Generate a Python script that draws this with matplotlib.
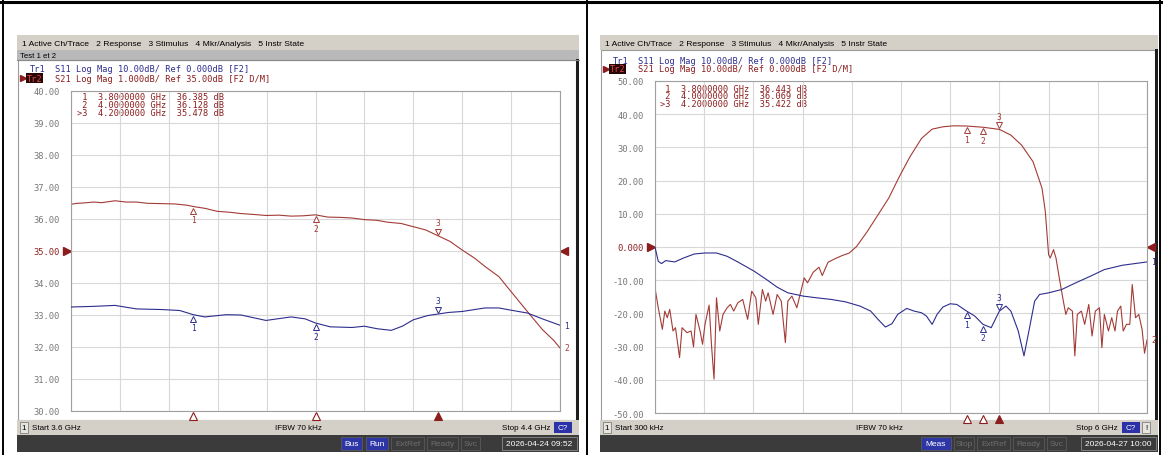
import numpy as np
import matplotlib
matplotlib.use('Agg')
import matplotlib.pyplot as plt
from matplotlib.patches import Rectangle
from matplotlib.transforms import offset_copy, blended_transform_factory

# ---- left screen: 3.6 - 4.4 GHz zoom ----
left_f_s21 = [3.600, 3.610, 3.620, 3.637, 3.650, 3.672, 3.690, 3.707, 3.725, 3.749,
              3.770, 3.790, 3.800, 3.820, 3.839, 3.860, 3.878, 3.900, 3.919, 3.940,
              3.960, 3.980, 4.000, 4.020, 4.042, 4.060, 4.080, 4.100, 4.118, 4.140,
              4.160, 4.180, 4.200, 4.220, 4.240, 4.260, 4.277, 4.300, 4.320, 4.347,
              4.371, 4.390, 4.400]
left_s21 = [36.46, 36.49, 36.50, 36.53, 36.51, 36.57, 36.53, 36.53, 36.49, 36.48,
            36.47, 36.43, 36.39, 36.33, 36.24, 36.21, 36.17, 36.14, 36.11, 36.12,
            36.09, 36.10, 36.13, 36.06, 36.05, 36.03, 35.98, 35.96, 35.90, 35.86,
            35.76, 35.66, 35.48, 35.30, 35.03, 34.78, 34.52, 34.20, 33.73, 33.10,
            32.55, 32.20, 31.97]
left_f_s11 = [3.600, 3.637, 3.672, 3.707, 3.749, 3.778, 3.800, 3.819, 3.854, 3.878,
              3.919, 3.960, 3.983, 4.000, 4.024, 4.060, 4.080, 4.101, 4.124, 4.142,
              4.160, 4.183, 4.200, 4.218, 4.240, 4.277, 4.300, 4.320, 4.347, 4.371,
              4.400]
left_s11 = [-17.5, -17.3, -17.0, -18.1, -18.3, -18.6, -19.9, -20.6, -19.9, -20.0,
            -21.7, -20.6, -21.2, -22.5, -23.7, -23.9, -23.5, -24.3, -24.8, -23.5,
            -21.5, -20.2, -19.7, -19.2, -18.9, -17.8, -17.8, -18.5, -19.4, -21.2,
            -23.2]
left_mk_f = [3.8, 4.0, 4.2]
left_mk_s21 = [36.385, 36.128, 35.478]
left_mk_s11 = [-19.9, -22.5, -19.7]
left_yticks = [40, 39, 38, 37, 36, 35, 34, 33, 32, 31, 30]

# ---- right screen: 300 kHz - 6 GHz wide sweep ----
right_f_s11 = [0.00, 0.04, 0.08, 0.13, 0.24, 0.35, 0.48, 0.61, 0.75, 0.88,
               1.01, 1.21, 1.36, 1.49, 1.62, 1.81, 1.97, 2.15, 2.32, 2.50,
               2.63, 2.72, 2.81, 2.89, 2.96, 3.07, 3.16, 3.25, 3.31, 3.38,
               3.44, 3.51, 3.60, 3.68, 3.80, 3.90, 4.00, 4.10, 4.20, 4.28,
               4.34, 4.43, 4.50, 4.56, 4.63, 4.69, 4.80, 4.96, 5.13, 5.31,
               5.48, 5.70, 6.00]
right_s11 = [0.0, -4.3, -5.0, -4.1, -4.5, -3.3, -2.1, -1.8, -1.8, -2.8,
             -4.5, -7.3, -9.8, -12.1, -13.8, -14.8, -15.3, -15.8, -16.5, -17.8,
             -19.3, -21.8, -24.1, -23.1, -20.3, -18.5, -19.3, -19.8, -20.8, -23.3,
             -20.3, -18.1, -17.1, -17.3, -19.3, -20.8, -23.3, -24.3, -19.3, -17.8,
             -19.3, -25.3, -32.8, -25.3, -16.3, -14.3, -13.8, -12.8, -10.8, -8.8,
             -6.8, -5.5, -4.5]
right_f_s21 = [0.00, 0.04, 0.09, 0.12, 0.15, 0.18, 0.22, 0.25, 0.30, 0.33,
               0.39, 0.44, 0.47, 0.50, 0.55, 0.58, 0.61, 0.66, 0.69, 0.72,
               0.75, 0.79, 0.83, 0.88, 0.92, 0.96, 1.01, 1.07, 1.13, 1.18,
               1.23, 1.26, 1.31, 1.35, 1.38, 1.44, 1.49, 1.54, 1.59, 1.62,
               1.67, 1.73, 1.78, 1.82, 1.86, 1.93, 2.00, 2.04, 2.11, 2.19,
               2.28, 2.37, 2.46, 2.59, 2.72, 2.85, 2.98, 3.11, 3.25, 3.38,
               3.51, 3.64, 3.80, 4.00, 4.20, 4.34, 4.47, 4.61, 4.72, 4.76,
               4.80, 4.82, 4.86, 4.89, 4.93, 4.98, 5.01, 5.04, 5.09, 5.12,
               5.15, 5.20, 5.24, 5.29, 5.33, 5.37, 5.42, 5.45, 5.48, 5.53,
               5.57, 5.61, 5.64, 5.68, 5.71, 5.75, 5.79, 5.82, 5.86, 5.90,
               5.94, 5.97, 6.00]
right_s21 = [-12.3, -18.3, -24.8, -19.3, -21.3, -18.8, -25.3, -24.3, -33.3, -24.3,
             -25.8, -25.3, -30.1, -20.3, -25.3, -29.3, -23.3, -17.5, -29.8, -39.8,
             -15.3, -25.3, -20.3, -18.3, -17.3, -19.3, -16.8, -15.8, -21.8, -13.3,
             -15.3, -23.3, -12.8, -16.3, -13.8, -20.3, -14.3, -16.3, -28.8, -16.3,
             -14.8, -18.3, -13.3, -9.3, -10.8, -7.6, -6.1, -8.6, -4.6, -3.6,
             -2.6, -1.8, 0.2, 4.7, 9.7, 14.7, 21.2, 27.2, 32.7, 35.5,
             36.2, 36.5, 36.44, 36.07, 35.42, 33.7, 30.7, 25.7, 17.7, 10.7,
             -2.3, -3.3, -0.8, -3.3, -9.3, -16.3, -20.3, -18.3, -19.3, -32.8,
             -20.3, -19.3, -23.3, -17.3, -26.8, -19.3, -18.3, -30.3, -20.3, -25.3,
             -21.3, -25.3, -19.3, -17.8, -25.3, -23.3, -23.3, -11.3, -21.3, -20.3,
             -24.8, -32.0, -28.0]
right_mk_f = [3.8, 4.0, 4.2]
right_mk_s21 = [36.443, 36.069, 35.422]
right_mk_s11 = [-19.3, -23.3, -19.3]
right_yticks = [50, 40, 30, 20, 10, 0, -10, -20, -30, -40, -50]

W, H = 1163, 456
RED = '#a33b36'
BLUE = '#2d2d8e'
MRED = '#8c1d1d'
MONO = 'DejaVu Sans Mono'
SANS = 'Liberation Sans'

fig = plt.figure(figsize=(W / 100, H / 100), dpi=100)
bg = fig.add_axes([0, 0, 1, 1])
bg.set_xlim(0, W)
bg.set_ylim(H, 0)
bg.axis('off')


def box(x0, y0, x1, y1, fc, ec='none', lw=0, z=1):
    bg.add_patch(Rectangle((x0, y0), x1 - x0, y1 - y0, facecolor=fc,
                           edgecolor=ec, linewidth=lw, zorder=z))


def txt(x, y, s, size=6.2, color='black', ha='left', family=MONO, **kw):
    bg.text(x, y, s, fontsize=size, color=color, ha=ha, va='center',
            family=family, zorder=5, **kw)


# outer table lines
bg.plot([0, W], [2.5, 2.5], color='black', lw=2.2)
for xx in (3, 587, 1160):
    bg.plot([xx, xx], [0, H], color='black', lw=1.4)


def panel(x0, x1, title, trace_y, s11_head, s21_head, start, stop, buttons, stamp, bang):
    box(x0, 36, x1, 51, '#d4d0c8')
    txt(x0 + 5, 44, '1 Active Ch/Trace   2 Response   3 Stimulus   4 Mkr/Analysis   5 Instr State',
        size=6.1, family=SANS)
    top = 51
    if title:
        box(x0, 51, x1, 61, '#b9b9b9')
        bg.plot([x0, x1], [61, 61], color='#8a8a8a', lw=0.8)
        txt(x0 + 3, 56, title, size=5.6, family=SANS)
        top = 61
    box(x0 + 1, top, x1 - 3, 421, 'white', ec='#9a9a9a', lw=0.8)
    box(x1 - 3, top - 1, x1, 436, '#1e1e1e')
    # trace headers
    txt(x0 + 13, trace_y, 'Tr1', color=BLUE)
    txt(x0 + 38, trace_y, s11_head, color=BLUE)
    bg.plot(x0 + 6, trace_y + 9, marker='>', ms=4, color=MRED, zorder=6)
    bg.text(x0 + 10, trace_y + 9, 'Tr2', fontsize=6.2, family=MONO, color='#e04848',
            va='center', zorder=6,
            bbox=dict(boxstyle='square,pad=0.08', fc='#2a0606', ec='none'))
    txt(x0 + 38, trace_y + 9, s21_head, color=MRED)
    # status bar
    box(x0, 421, x1, 436, '#d4d0c8')
    box(x0 + 3, 423, x0 + 11, 434, '#e6e4de', ec='#808080', lw=0.6)
    txt(x0 + 7, 428.5, '1', size=5.8, family=SANS, ha='center')
    txt(x0 + 15, 428.5, start, size=5.8, family=SANS)
    txt((x0 + x1) / 2, 428.5, 'IFBW 70 kHz', size=5.8, family=SANS, ha='center')
    cx = x1 - 27 if bang else x1 - 16
    box(cx - 9, 423, cx + 9, 434, '#2b32a8')
    txt(cx, 428.5, 'C?', size=5.8, family=SANS, ha='center', color='white')
    txt(cx - 13, 428.5, stop, size=5.8, family=SANS, ha='right')
    if bang:
        box(cx + 11, 423, cx + 19, 434, '#e6e4de', ec='#808080', lw=0.6)
        txt(cx + 15, 428.5, '!', size=5.8, family=SANS, ha='center')
    # dark bar
    box(x0, 436, x1, 453, '#3b3b3b')
    box(x1 - 77, 438, x1 - 2, 451, '#3b3b3b', ec='#8a8a8a', lw=0.6)
    txt(x1 - 39.5, 444.5, stamp, size=6.0, family=SANS, ha='center', color='white')
    for bx, bw, lab, on in buttons:
        box(bx, 438, bx + bw, 451, '#2e36a6' if on else '#3b3b3b',
            ec='#5a5a5a', lw=0.6)
        txt(bx + bw / 2, 444.5, lab, size=6.0, family=SANS, ha='center',
            color='white' if on else '#6e6e6e')


panel(17, 579, 'Test 1 et 2', 70,
      'S11 Log Mag 10.00dB/ Ref 0.000dB [F2]',
      'S21 Log Mag 1.000dB/ Ref 35.00dB [F2 D/M]',
      'Start 3.6 GHz', 'Stop 4.4 GHz',
      [(341, 21, 'Bus', True), (366, 22, 'Run', True), (391, 33, 'ExtRef', False),
       (427, 31, 'Ready', False), (461, 19, 'Svc', False)],
      '2026-04-24 09:52', False)
panel(600, 1158, None, 61,
      'S11 Log Mag 10.00dB/ Ref 0.000dB [F2]',
      'S21 Log Mag 10.00dB/ Ref 0.000dB [F2 D/M]',
      'Start 300 kHz', 'Stop 6 GHz',
      [(921, 30, 'Meas', True), (954, 20, 'Stop', False), (977, 33, 'ExtRef', False),
       (1013, 31, 'Ready', False), (1047, 19, 'Svc', False)],
      '2026-04-27 10:00', True)


def chart(box_px, xlim, ylim, yticks, ref, f21, v21, f11, v11, mk_f, mk21, mk11, table_xy):
    x0, y0, x1, y1 = box_px
    ax = fig.add_axes([x0 / W, 1 - y1 / H, (x1 - x0) / W, (y1 - y0) / H])
    ax.set_xlim(xlim)
    ax.set_ylim(ylim)
    ax.set_xticks(np.linspace(xlim[0], xlim[1], 11))
    ax.set_xticklabels([])
    ax.set_yticks(yticks)
    labs = ['0.000' if t == 0 else '%.2f' % t for t in yticks]
    ax.set_yticklabels(labs, family=MONO, fontsize=6.3, color='#767676')
    for lab, t in zip(ax.get_yticklabels(), yticks):
        if t == ref:
            lab.set_color(MRED)
    ax.tick_params(length=0, pad=8)
    ax.grid(color='#d8d8d8', lw=0.8)
    for s in ax.spines.values():
        s.set_color('#a0a0a0')
        s.set_linewidth(0.8)
    ax.patch.set_alpha(0)

    ax2 = ax.twinx()
    ax2.set_ylim(-50, 50)
    ax2.axis('off')

    ax.plot(f21, v21, color=RED, lw=0.8)
    ax2.plot(f11, v11, color=BLUE, lw=0.8)

    # marker symbols on the traces
    for a, vals, col in ((ax, mk21, RED), (ax2, mk11, BLUE)):
        for i, (f, v) in enumerate(zip(mk_f, vals)):
            if i < 2:
                tr = offset_copy(a.transData, fig=fig, y=-3.0, units='points')
                a.plot(f, v, marker='^', ms=5, mfc='white', mec=col, mew=0.7,
                       transform=tr, clip_on=False)
                a.annotate(str(i + 1), (f, v), xytext=(0, -9.5), textcoords='offset points',
                           ha='center', va='center', fontsize=5.8, family=MONO, color=col)
            else:
                tr = offset_copy(a.transData, fig=fig, y=3.0, units='points')
                a.plot(f, v, marker='v', ms=5, mfc='white', mec=col, mew=0.7,
                       transform=tr, clip_on=False)
                a.annotate(str(i + 1), (f, v), xytext=(0, 9.5), textcoords='offset points',
                           ha='center', va='center', fontsize=5.8, family=MONO, color=col)

    # stimulus markers under the grid
    bt = blended_transform_factory(ax.transData, ax.transAxes)
    for i, f in enumerate(mk_f):
        ax.plot(f, -0.017, marker='^', ms=6, mec=MRED, mew=0.8,
                mfc=MRED if i == 2 else 'white', transform=bt, clip_on=False)

    # reference position arrows
    rf = (ref - ylim[0]) / (ylim[1] - ylim[0])
    ax.plot(-0.009, rf, marker='>', ms=5.5, color=MRED, transform=ax.transAxes, clip_on=False)
    ax.plot(1.009, rf, marker='<', ms=5.5, color=MRED, transform=ax.transAxes, clip_on=False)

    # trace end numbers
    ax2.annotate('1', (f11[-1], v11[-1]), xytext=(3, 0), textcoords='offset points',
                 ha='left', va='center', fontsize=5.8, family=MONO, color=BLUE,
                 annotation_clip=False)
    ax.annotate('2', (f21[-1], v21[-1]), xytext=(3, 0), textcoords='offset points',
                ha='left', va='center', fontsize=5.8, family=MONO, color=RED,
                annotation_clip=False)

    # marker readout table
    tx, ty = table_xy
    for i, (f, v) in enumerate(zip(mk_f, mk21)):
        lead = '>%d' % (i + 1) if i == 2 else ' %d' % (i + 1)
        txt(tx, ty + 8 * i, '%s  %.7f GHz  %.3f dB' % (lead, f, v), color=MRED)
    return ax


chart((71, 92, 560, 412), (3.6, 4.4), (30, 40), left_yticks, 35,
      left_f_s21, left_s21, left_f_s11, left_s11,
      left_mk_f, left_mk_s21, left_mk_s11, (77, 98))
chart((655, 82, 1147, 414), (0.0003, 6.0), (-50, 50), right_yticks, 0,
      right_f_s21, right_s21, right_f_s11, right_s11,
      right_mk_f, right_mk_s21, right_mk_s11, (660, 89))

fig.savefig('out.png', dpi=100)
